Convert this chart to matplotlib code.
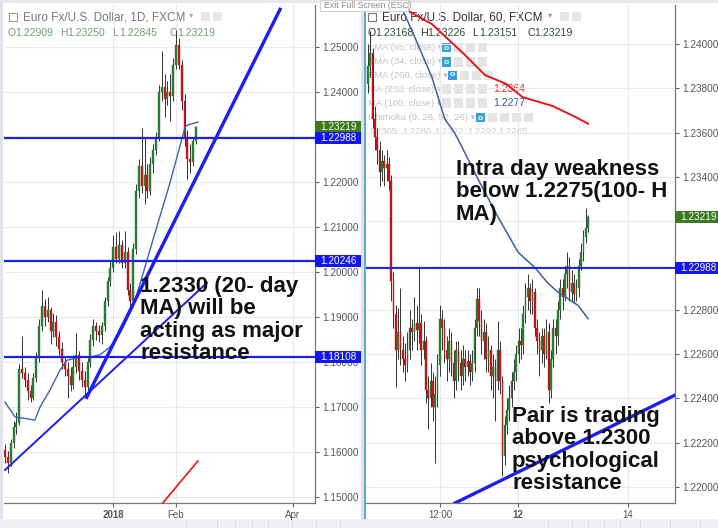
import matplotlib
matplotlib.use('Agg')
from matplotlib import pyplot as plt
from matplotlib.patches import Rectangle
from matplotlib.transforms import blended_transform_factory

W, H = 718, 528
FONT = ['Liberation Sans', 'DejaVu Sans']
plt.rcParams['font.family'] = FONT

# ---------------- daily EUR/USD (left) ----------------
d_open = [1.1605, 1.1590, 1.1575, 1.1620, 1.1655, 1.1665, 1.1785, 1.1775, 1.1760, 1.1735,
          1.1720, 1.1765, 1.1810, 1.1880, 1.1925, 1.1900, 1.1915, 1.1870, 1.1890, 1.1855,
          1.1830, 1.1800, 1.1785, 1.1770, 1.1750, 1.1790, 1.1815, 1.1780, 1.1760, 1.1745,
          1.1800, 1.1850, 1.1880, 1.1870, 1.1860, 1.1880, 1.1935, 1.1980, 1.2010, 1.2055,
          1.2030, 1.2060, 1.2020, 1.2045, 1.1960, 1.1935, 1.2050, 1.2180, 1.2235, 1.2190,
          1.2215, 1.2180, 1.2240, 1.2270, 1.2300, 1.2400, 1.2410, 1.2385, 1.2400, 1.2390,
          1.2460, 1.2505, 1.2460, 1.2380, 1.2300, 1.2250, 1.2245, 1.22909]
d_high = [1.1618, 1.1602, 1.1630, 1.1668, 1.1690, 1.1795, 1.1858, 1.1790, 1.1775, 1.1748,
          1.1775, 1.1822, 1.1895, 1.1960, 1.1940, 1.1945, 1.1922, 1.1910, 1.1905, 1.1868,
          1.1845, 1.1812, 1.1800, 1.1790, 1.1815, 1.1865, 1.1825, 1.1800, 1.1780, 1.1810,
          1.1862, 1.1895, 1.1890, 1.1882, 1.1890, 1.1945, 1.1990, 1.2025, 1.2082, 1.2088,
          1.2090, 1.2070, 1.2090, 1.2055, 1.1975, 1.2065, 1.2195, 1.2250, 1.2320, 1.2300,
          1.2240, 1.2255, 1.2285, 1.2310, 1.2415, 1.2490, 1.2440, 1.2425, 1.2440, 1.2475,
          1.2537, 1.2520, 1.2470, 1.2395, 1.2315, 1.2285, 1.2300, 1.23250]
d_low = [1.1575, 1.1554, 1.1568, 1.1610, 1.1640, 1.1660, 1.1765, 1.1745, 1.1715, 1.1712,
         1.1715, 1.1755, 1.1800, 1.1870, 1.1880, 1.1890, 1.1840, 1.1855, 1.1835, 1.1815,
         1.1785, 1.1770, 1.1720, 1.1735, 1.1740, 1.1775, 1.1760, 1.1745, 1.1725, 1.1738,
         1.1790, 1.1835, 1.1850, 1.1845, 1.1840, 1.1870, 1.1925, 1.1970, 1.2000, 1.2020,
         1.2020, 1.2010, 1.2010, 1.1950, 1.1915, 1.1925, 1.2040, 1.2165, 1.2175, 1.2150,
         1.2165, 1.2170, 1.2220, 1.2260, 1.2290, 1.2380, 1.2345, 1.2370, 1.2335, 1.2380,
         1.2450, 1.2450, 1.2360, 1.2280, 1.2206, 1.2220, 1.2235, 1.22845]
d_close = [1.1590, 1.1575, 1.1620, 1.1655, 1.1665, 1.1785, 1.1775, 1.1760, 1.1735, 1.1720,
           1.1765, 1.1810, 1.1880, 1.1925, 1.1900, 1.1915, 1.1870, 1.1890, 1.1855, 1.1830,
           1.1800, 1.1785, 1.1770, 1.1750, 1.1790, 1.1815, 1.1780, 1.1760, 1.1745, 1.1800,
           1.1850, 1.1880, 1.1870, 1.1860, 1.1880, 1.1935, 1.1980, 1.2010, 1.2055, 1.2030,
           1.2060, 1.2020, 1.2045, 1.1960, 1.1935, 1.2050, 1.2180, 1.2235, 1.2190, 1.2215,
           1.2180, 1.2240, 1.2270, 1.2300, 1.2400, 1.2410, 1.2385, 1.2400, 1.2390, 1.2460,
           1.2505, 1.2460, 1.2380, 1.2300, 1.2250, 1.2245, 1.2290, 1.23219]
# 20-day MA (bar index, price)
d_ma_idx = [0, 3.5, 10.5, 12.3, 15.8, 19.3, 21.8, 26.3, 29.8, 33.3, 36.8, 40.4, 44.9,
            48.1, 51.9, 57.9, 63.2, 64.2, 67.7]
d_ma_val = [1.1711, 1.1678, 1.1671, 1.1700, 1.1738, 1.1782, 1.1804, 1.1811, 1.1811, 1.1816,
            1.1833, 1.1864, 1.1922, 1.1989, 1.2071, 1.2198, 1.2322, 1.2327, 1.2333]
d_levels = [1.22988, 1.20246, 1.18108]
d_last = 1.23219
d_trend_thick = ([28.4, 96.8], [1.1718, 1.2587])
d_trend_thin = ([0.0, 70.9], [1.1560, 1.1976])
d_red = ([55.4, 67.7], [1.1487, 1.1580])
d_ticks = [38, 60, 101]
d_tick_labels = ['2018', 'Feb', 'Apr']
d_tick_bold = [True, False, False]
d_yticks = [1.15, 1.16, 1.17, 1.18, 1.19, 1.20, 1.21, 1.22, 1.23, 1.24, 1.25]
d_hidden = [1.23]

# ---------------- hourly EUR/USD (right) ----------------
h_open = [1.2382, 1.2390, 1.2396, 1.2366, 1.2358, 1.2352, 1.2342, 1.2347, 1.2344, 1.2346,
          1.2338, 1.2293, 1.2278, 1.2262, 1.2270, 1.2262, 1.2258, 1.2255, 1.2262, 1.2272,
          1.2270, 1.2274, 1.2271, 1.2274, 1.2262, 1.2266, 1.2244, 1.2240, 1.2248, 1.2236,
          1.2242, 1.2255, 1.2276, 1.2272, 1.2262, 1.2258, 1.2266, 1.2256, 1.2248, 1.2262,
          1.2256, 1.2250, 1.2258, 1.2254, 1.2257, 1.2252, 1.2256, 1.2272, 1.2285, 1.2275,
          1.2266, 1.2270, 1.2258, 1.2262, 1.2250, 1.2254, 1.2248, 1.2262, 1.2248, 1.2214,
          1.2228, 1.2235, 1.2240, 1.2248, 1.2252, 1.2260, 1.2266, 1.2264, 1.2278, 1.2286,
          1.2290, 1.2284, 1.2288, 1.2272, 1.2266, 1.2262, 1.2268, 1.2260, 1.2270, 1.2244,
          1.2258, 1.2272, 1.2268, 1.2280, 1.2290, 1.2286, 1.2296, 1.2300, 1.2288, 1.2292,
          1.2287, 1.2290, 1.2300, 1.2306, 1.2313, 1.23168]
h_high = [1.2400, 1.2406, 1.2398, 1.2372, 1.2362, 1.2356, 1.2352, 1.2350, 1.2352, 1.2349,
          1.2341, 1.2297, 1.2282, 1.2281, 1.2290, 1.2268, 1.2265, 1.2270, 1.2280, 1.2276,
          1.2286, 1.2282, 1.2300, 1.2278, 1.2275, 1.2268, 1.2250, 1.2256, 1.2252, 1.2250,
          1.2260, 1.2282, 1.2280, 1.2276, 1.2268, 1.2272, 1.2270, 1.2262, 1.2266, 1.2266,
          1.2262, 1.2264, 1.2262, 1.2262, 1.2260, 1.2262, 1.2276, 1.2290, 1.2290, 1.2280,
          1.2276, 1.2274, 1.2268, 1.2264, 1.2260, 1.2258, 1.2275, 1.2266, 1.2250, 1.2232,
          1.2240, 1.2246, 1.2252, 1.2258, 1.2264, 1.2272, 1.2272, 1.2282, 1.2292, 1.2296,
          1.2292, 1.2294, 1.2290, 1.2276, 1.2270, 1.2272, 1.2272, 1.2276, 1.2274, 1.2262,
          1.2276, 1.2276, 1.2284, 1.2294, 1.2294, 1.2300, 1.2306, 1.2304, 1.2298, 1.2296,
          1.2294, 1.2303, 1.2310, 1.2316, 1.2326, 1.23226]
h_low = [1.2378, 1.2385, 1.2362, 1.2352, 1.2346, 1.2336, 1.2338, 1.2336, 1.2338, 1.2334,
         1.2284, 1.2272, 1.2245, 1.2258, 1.2255, 1.2252, 1.2248, 1.2252, 1.2258, 1.2262,
         1.2266, 1.2262, 1.2265, 1.2255, 1.2258, 1.2238, 1.2226, 1.2236, 1.2230, 1.2211,
         1.2236, 1.2250, 1.2262, 1.2256, 1.2248, 1.2252, 1.2250, 1.2240, 1.2244, 1.2248,
         1.2244, 1.2246, 1.2248, 1.2250, 1.2246, 1.2248, 1.2252, 1.2268, 1.2268, 1.2260,
         1.2258, 1.2252, 1.2252, 1.2244, 1.2240, 1.2230, 1.2244, 1.2242, 1.2205, 1.2210,
         1.2224, 1.2230, 1.2236, 1.2244, 1.2248, 1.2256, 1.2258, 1.2260, 1.2274, 1.2280,
         1.2278, 1.2278, 1.2268, 1.2260, 1.2250, 1.2256, 1.2254, 1.2258, 1.2238, 1.2240,
         1.2254, 1.2260, 1.2264, 1.2276, 1.2280, 1.2284, 1.2290, 1.2284, 1.2284, 1.2283,
         1.2284, 1.2286, 1.2298, 1.2302, 1.2310, 1.23151]
h_close = [1.2390, 1.2396, 1.2366, 1.2358, 1.2352, 1.2342, 1.2347, 1.2344, 1.2346, 1.2338,
           1.2293, 1.2278, 1.2262, 1.2270, 1.2262, 1.2258, 1.2255, 1.2262, 1.2272, 1.2270,
           1.2274, 1.2271, 1.2274, 1.2262, 1.2266, 1.2244, 1.2240, 1.2248, 1.2236, 1.2242,
           1.2255, 1.2276, 1.2272, 1.2262, 1.2258, 1.2266, 1.2256, 1.2248, 1.2262, 1.2256,
           1.2250, 1.2258, 1.2254, 1.2257, 1.2252, 1.2256, 1.2272, 1.2285, 1.2275, 1.2266,
           1.2270, 1.2258, 1.2262, 1.2250, 1.2254, 1.2248, 1.2262, 1.2248, 1.2214, 1.2228,
           1.2235, 1.2240, 1.2248, 1.2252, 1.2260, 1.2266, 1.2264, 1.2278, 1.2286, 1.2290,
           1.2284, 1.2288, 1.2272, 1.2266, 1.2262, 1.2268, 1.2260, 1.2270, 1.2244, 1.2258,
           1.2272, 1.2268, 1.2280, 1.2290, 1.2286, 1.2296, 1.2300, 1.2288, 1.2292, 1.2287,
           1.2290, 1.2300, 1.2306, 1.2313, 1.23168, 1.23219]
h_ma100_idx = [13.8, 19.0, 27.6, 33.2, 36.7, 38.9, 47.0, 56.1, 64.8, 72.1, 77.7, 82.0, 90.7, 95.0]
h_ma100_val = [1.2418, 1.2406, 1.2385, 1.2366, 1.2361, 1.2357, 1.2340, 1.2322, 1.2306, 1.2299,
               1.2292, 1.2288, 1.2282, 1.2276]
h_ma233_idx = [12.1, 27.6, 41.9, 50.5, 59.6, 66.8, 79.7, 89.7, 95.0]
h_ma233_val = [1.2418, 1.2409, 1.2395, 1.2386, 1.2382, 1.2376, 1.2372, 1.2367, 1.2364]
h_levels = [1.22988]
h_last = 1.23219
h_trend = ([37.6, 132.6], [1.21928, 1.22415])
h_ticks = [31.1, 64.8, 112.3]
h_tick_labels = ['12:00', '12', '14']
h_tick_bold = [False, True, False]
h_yticks = [1.220, 1.222, 1.224, 1.226, 1.228, 1.230, 1.232, 1.234, 1.236, 1.238, 1.240]
h_hidden = [1.230, 1.232]

UP, DOWN, WICK = '#2b7b30', '#c3141c', '#333333'
LINE_BLUE = '#1c1cf5'

fig = plt.figure(figsize=(W / 100, H / 100), dpi=100)
fig.patch.set_facecolor('white')


def fx(x):
    return x / W


def fy(y):
    return 1 - y / H


def ftext(x, y, s, **kw):
    kw.setdefault('va', 'center')
    fig.text(fx(x), fy(y), s, **kw)


def frect(x0, y0, x1, y1, **kw):
    fig.add_artist(Rectangle((fx(x0), fy(y1)), (x1 - x0) / W, (y1 - y0) / H,
                             transform=fig.transFigure, **kw))


def add_axes_px(x0, y0, x1, y1):
    ax = fig.add_axes([fx(x0), fy(y1), (x1 - x0) / W, (y1 - y0) / H])
    ax.set_zorder(5)
    ax.patch.set_facecolor('none')
    return ax


def style(ax, xlim, ylim, yticks, hidden, xticks, xlabels, bold):
    ax.set_xlim(*xlim)
    ax.set_ylim(*ylim)
    ax.set_yticks(yticks)
    ax.set_yticklabels(['' if any(abs(v - hv) < 1e-9 for hv in hidden) else f'{v:.5f}'
                        for v in yticks])
    ax.yaxis.tick_right()
    ax.tick_params(axis='y', length=3, width=0.8, color='#666', labelsize=7.2,
                   labelcolor='#555', pad=2)
    ax.set_xticks(xticks)
    ax.set_xticklabels(xlabels)
    ax.tick_params(axis='x', length=3, width=0.8, color='#666', labelsize=7,
                   labelcolor='#555', pad=2)
    for lab, b in zip(ax.get_xticklabels(), bold):
        lab.set_fontweight('bold' if b else 'normal')
    ax.grid(True, color='#e9e9e9', lw=0.8)
    ax.set_axisbelow(True)
    for s in ['top', 'left']:
        ax.spines[s].set_visible(False)
    for s in ['right', 'bottom']:
        ax.spines[s].set_color('#777')
        ax.spines[s].set_linewidth(0.9)


def candles(ax, o, h, l, c, width):
    idx = list(range(len(c)))
    cols = [UP if cc >= oo else DOWN for oo, cc in zip(o, c)]
    ax.vlines(idx, l, h, color=WICK, lw=0.7, zorder=3)
    bottoms = [min(oo, cc) for oo, cc in zip(o, c)]
    heights = [max(abs(cc - oo), 0.00003) for oo, cc in zip(o, c)]
    ax.bar(idx, heights, bottom=bottoms, width=width, color=cols, edgecolor=cols,
           lw=0.3, zorder=4)


def price_box(ax, val, color, width_px, h_px=12):
    tr = blended_transform_factory(ax.transAxes, ax.transData)
    pos = ax.get_position()
    ax_w, ax_h = pos.width * W, pos.height * H
    y0, y1 = ax.get_ylim()
    dh = h_px * (y1 - y0) / ax_h
    ax.add_patch(Rectangle((1.0, val - dh / 2), width_px / ax_w, dh, transform=tr,
                           facecolor=color, edgecolor='none', clip_on=False, zorder=10))
    ax.text(1.0 + 5 / ax_w, val, f'{val:.5f}', transform=tr, color='white', fontsize=7.2,
            va='center', ha='left', clip_on=False, zorder=11)


# ---------------- left panel ----------------
ax_d = add_axes_px(4, 5, 315, 503)
style(ax_d, (-0.35, 108.8), (1.14867, 1.25933), d_yticks, d_hidden, d_ticks, d_tick_labels,
      d_tick_bold)
candles(ax_d, d_open, d_high, d_low, d_close, 0.7)
ax_d.plot(d_ma_idx, d_ma_val, color='#3a64b5', lw=1.0, zorder=5)
for lv in d_levels:
    ax_d.axhline(lv, color=LINE_BLUE, lw=1.6, zorder=6)
ax_d.plot(*d_trend_thick, color=LINE_BLUE, lw=2.4, zorder=6, solid_capstyle='butt')
ax_d.plot(*d_trend_thin, color=LINE_BLUE, lw=1.4, zorder=6)
ax_d.plot(*d_red, color='#ee1111', lw=1.2, zorder=6, clip_on=False)
price_box(ax_d, d_last, '#3b7a1f', 46)
for lv in d_levels:
    price_box(ax_d, lv, '#1414fa', 46)

# ---------------- right panel ----------------
ax_h = add_axes_px(366, 5, 675, 503)
style(ax_h, (-0.86, 132.56), (1.21928, 1.24176), h_yticks, h_hidden, h_ticks, h_tick_labels,
      h_tick_bold)
candles(ax_h, h_open, h_high, h_low, h_close, 0.7)
ax_h.plot(h_ma100_idx, h_ma100_val, color='#3a5fb0', lw=1.1, zorder=5)
ax_h.plot(h_ma233_idx, h_ma233_val, color='#e8161b', lw=1.4, zorder=5)
for lv in h_levels:
    ax_h.axhline(lv, color=LINE_BLUE, lw=1.4, zorder=6)
ax_h.plot(*h_trend, color=LINE_BLUE, lw=2.4, zorder=6)
price_box(ax_h, h_last, '#3b7a1f', 43)
for lv in h_levels:
    price_box(ax_h, lv, '#1414fa', 43)

# ---------------- annotations ----------------
note = dict(fontsize=16, fontweight='bold', color='#111', ha='left', va='top',
            linespacing=1.08, zorder=20)
ftext(140, 276, '1.2330 (20- day\nMA) will be\nacting as major\nresistance', **note)
ftext(456, 159, 'Intra day weakness\nbelow 1.2275(100- H\nMA)', **note)
ftext(512, 406, 'Pair is trading\nabove 1.2300\npsychological\nresistance', **note)

# ---------------- chrome ----------------
frect(0, 0, 3, 528, color='#e0e3eb', lw=0)
frect(0, 0, 718, 3, color='#e6e8ee', lw=0)
frect(361, 0, 364, 519, color='#e0e3eb', lw=0)
frect(364, 0, 366, 519, color='#5aaae6', lw=0)
frect(0, 519, 718, 528, color='#eef0f4', lw=0)
for sx in [186, 217, 235, 252, 268, 292, 316, 340, 548, 572, 588, 604, 620, 640, 670, 700]:
    frect(sx, 521, sx + 1, 528, color='#d9dce3', lw=0)

# left legend
frect(9, 13, 17, 21, facecolor='white', edgecolor='#999', lw=0.8)
frect(11, 16.6, 15, 17.4, color='#999', lw=0)
ftext(23, 17, 'Euro Fx/U.S. Dollar, 1D, FXCM', fontsize=8.5, color='#777')
ftext(189, 16, '▾', fontsize=6, color='#aaa')
frect(201, 12, 210, 21, color='#e6e6e6', lw=0)
frect(213, 12, 222, 21, color='#e6e6e6', lw=0)
for lx, letter, val in [(8, 'O', '1.22909'), (60, 'H', '1.23250'), (112, 'L', '1.22845'),
                        (170, 'C', '1.23219')]:
    ftext(lx, 33, letter, fontsize=7.5, color='#8a8a8a')
    ftext(lx + 7, 33, val, fontsize=7.5, color='#6e9f76')

# right legend
frect(368, 13, 376, 21, facecolor='white', edgecolor='#777', lw=0.8)
frect(370, 16.6, 374, 17.4, color='#777', lw=0)
ftext(382, 17, 'Euro Fx/U.S. Dollar, 60, FXCM', fontsize=8.5, color='#333')
ftext(548, 16, '▾', fontsize=6, color='#999')
frect(560, 12, 569, 21, color='#e6e6e6', lw=0)
frect(572, 12, 581, 21, color='#e6e6e6', lw=0)
for lx, letter, val in [(368, 'O', '1.23168'), (420, 'H', '1.23226'), (472, 'L', '1.23151'),
                        (527, 'C', '1.23219')]:
    ftext(lx, 33, letter, fontsize=7.7, color='#333')
    ftext(lx + 7, 33, val, fontsize=7.7, color='#2e4f3a')

rows = [('EMA (55, close)', 48, 442, True), ('EMA (34, close)', 62, 442, True),
        ('EMA (200, close)', 75, 448, True), ('MA (233, close)', 89, 442, False),
        ('MA (100, close)', 103, 442, False), ('Ichimoku (9, 26, 52, 26)', 118, 476, True)]
for label, ry, ix, eye in rows:
    ftext(368, ry, label + ' ▾', fontsize=6.8, color='#c2c2c2')
    n = 5 if label.startswith('Ichimoku') else 4
    for k in range(n):
        x0 = ix + 12 * k
        col = '#3a9fe0' if (k == 0 and eye) else '#e4e4e4'
        frect(x0, ry - 4.5, x0 + 9, ry + 4.5, color=col, lw=0)
        if k == 0 and eye:
            ftext(x0 + 4.5, ry, 'o', fontsize=6, color='white', ha='center', fontweight='bold')
ftext(493, 89, '1.2364', fontsize=7.5, color='#ee2222')
ftext(493, 103, '1.2277', fontsize=7.5, color='#3050b0')
for vx, v in zip([368, 402, 434, 467, 498], ['1.2305', '1.2280', '1.2322', '1.2292', '1.2265']):
    ftext(vx, 132, v, fontsize=6.8, color='#cccccc')

# "Exit Full Screen" tooltip
frect(320, 0, 408, 11, facecolor='white', edgecolor='#d4d4d4', lw=0.8, zorder=20)
ftext(324, 5.5, 'Exit Full Screen (ESC)', fontsize=6.3, color='#8c8c8c', zorder=21)

fig.savefig('out.png', dpi=100)
